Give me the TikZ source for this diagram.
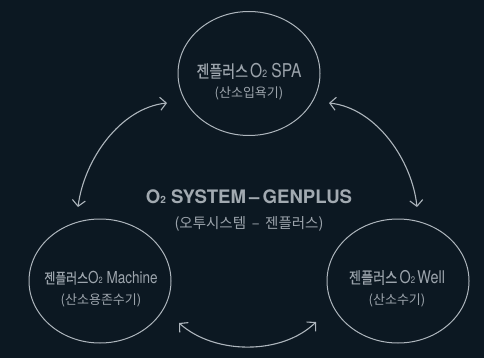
\documentclass[tikz,border=0pt]{standalone}
\usepackage{fontspec}
\setmainfont{TeX Gyre Heros}
\newfontfamily\kr{Noto Sans CJK KR}
\newfontfamily\krm[FakeBold=0.6]{Noto Sans CJK KR}
\usetikzlibrary{arrows.meta,shapes.geometric}
\definecolor{bgc}{HTML}{0C1822}
\definecolor{txtc}{HTML}{9CA4AC}
\definecolor{ttlc}{HTML}{A2AAB1}
\definecolor{lnc}{HTML}{AEB6BD}
\newcommand{\Otwo}[1]{O{\fontsize{#1}{#1}\selectfont 2}}
\newcommand{\cond}[1]{\scalebox{0.82}[1]{#1}}
\tikzset{
  bubble/.style={ellipse, draw=lnc, line width=1pt, minimum width=142pt, minimum height=124pt, inner sep=0pt},
  maintxt/.style={text=txtc, anchor=base, inner sep=0pt},
  subtxt/.style={text=txtc, anchor=base, inner sep=0pt},
  link/.style={draw=lnc, line width=1.1pt, {Straight Barb[length=6pt,width=13pt,line width=1.1pt]}-{Straight Barb[length=6pt,width=13pt,line width=1.1pt]}}
}
\begin{document}
\begin{tikzpicture}[x=1pt,y=-1pt]
\fill[bgc] (0,0) rectangle (484,358);
\useasboundingbox (0,0) rectangle (484,358);
% bubbles
\node[bubble] (spa) at (249,73.5) {};
\node[bubble] (mac) at (100,281) {};
\node[bubble] (well) at (398,281) {};
% texts
\node[maintxt] (spaT) at (249,77.5) {\cond{{\krm\fontsize{17pt}{18pt}\selectfont 젠플러스} {\fontsize{19pt}{21pt}\selectfont\Otwo{10.5pt} SPA}}};
\node[subtxt] (spaS) at (249,97.5) {\kr\fontsize{13pt}{15pt}\selectfont (산소입욕기)};
\node[maintxt] (macT) at (101,283.5) {\cond{{\krm\fontsize{14.5pt}{16pt}\selectfont 젠플러스}{\fontsize{16.5pt}{18pt}\selectfont\Otwo{9pt} Machine}}};
\node[subtxt] (macS) at (101,304.5) {\kr\fontsize{13pt}{15pt}\selectfont (산소용존수기)};
\node[maintxt] (wellT) at (397,283.5) {\cond{{\krm\fontsize{16pt}{18pt}\selectfont 젠플러스} {\fontsize{17.5pt}{19pt}\selectfont\Otwo{9.5pt}\,Well}}};
\node[subtxt] (wellS) at (397,304.5) {\kr\fontsize{13pt}{15pt}\selectfont (산소수기)};
\node[maintxt, text=ttlc] (title) at (249,203) {\fontsize{18.6pt}{20pt}\selectfont\bfseries \Otwo{10pt} SYSTEM\,–\,GENPLUS};
\node[subtxt] (titleS) at (249,228.5) {\kr\fontsize{14.5pt}{16pt}\selectfont (오투시스템 \,–\, 젠플러스)};
% arrow ends
\coordinate (a1) at (78,207);
\coordinate (a2) at (167,103);
\coordinate (b1) at (329,103);
\coordinate (b2) at (417,207);
\coordinate (c1) at (179,323);
\coordinate (c2) at (316,322);
\draw[link] (a1) .. controls (84,160) and (120,108) .. (a2);
\draw[link] (b1) .. controls (376,108) and (412,160) .. (b2);
\draw[link] (c1) .. controls (215,355) and (282,355) .. (c2);
\end{tikzpicture}
\end{document}
